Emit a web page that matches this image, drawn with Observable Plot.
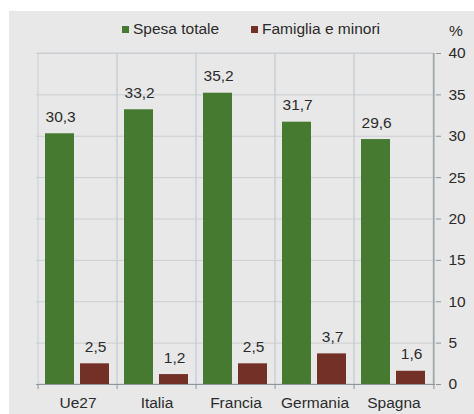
<!DOCTYPE html>
<html>
<head>
<meta charset="utf-8">
<script src="https://cdn.jsdelivr.net/npm/d3@7"></script>
<script src="https://cdn.jsdelivr.net/npm/@observablehq/plot@0.6"></script>
<style>
  html, body { margin: 0; padding: 0; background: #ffffff; }
  body { width: 474px; height: 414px; position: relative; overflow: hidden; font-family: "Liberation Sans", Arial, sans-serif; }
  #panel { position: absolute; left: 9px; top: 11px; width: 465px; height: 403px; background: #e8e8e8; }
  #legend { position: relative; height: 28px; font-size: 15.5px; color: #2b2b2b; }
  #legend .sw { position: absolute; width: 7px; height: 7px; top: 15px; }
  #legend .lb { position: absolute; top: 10px; line-height: 15px; white-space: nowrap; }
  svg { display: block; background: transparent !important; }
</style>
</head>
<body>
<div id="panel">
  <div id="legend"></div>
  <div id="chart"></div>
</div>
<script>
const categories = ["Ue27", "Italia", "Francia", "Germania", "Spagna"];
const spesaTotale = [30.3, 33.2, 35.2, 31.7, 29.6];
const famigliaMinori = [2.5, 1.2, 2.5, 3.7, 1.6];
const seriesNames = ["Spesa totale", "Famiglia e minori"];
const seriesColors = ["#457a30", "#733027"];
const yTicks = [0, 5, 10, 15, 20, 25, 30, 35, 40];
const unitLabel = "%";

const fmt = v => v.toFixed(1).replace(".", ",");

// legend
const legend = document.getElementById("legend");
const legendPos = [{sw: 113, lb: 124}, {sw: 242, lb: 253}];
seriesNames.forEach((name, i) => {
  const sw = document.createElement("div");
  sw.className = "sw";
  sw.style.left = legendPos[i].sw + "px";
  sw.style.background = seriesColors[i];
  legend.appendChild(sw);
  const lb = document.createElement("div");
  lb.className = "lb";
  lb.style.left = legendPos[i].lb + "px";
  lb.textContent = name;
  legend.appendChild(lb);
});
const pct = document.createElement("div");
pct.className = "lb";
pct.style.left = "440px";
pct.style.top = "12px";
pct.textContent = unitLabel;
legend.appendChild(pct);

const rowsA = categories.map((c, i) => ({cat: c, value: spesaTotale[i]}));
const rowsB = categories.map((c, i) => ({cat: c, value: famigliaMinori[i]}));

const W = 465, H = 375, mL = 27, mR = 39;
const bw = (W - mL - mR) / categories.length;
const gridColor = "#c9ced3";
const axisColor = "#8e959b";
const textColor = "#2b2b2b";

const chart = Plot.plot({
  width: W,
  height: H,
  marginLeft: mL,
  marginRight: mR,
  marginTop: 14,
  marginBottom: 30,
  style: {fontFamily: "Liberation Sans, Arial, sans-serif", fontSize: "15.5px", color: textColor, background: "transparent", overflow: "visible"},
  x: {type: "band", domain: categories, paddingInner: 0, paddingOuter: 0, axis: null, label: null},
  y: {domain: [0, 40], axis: null, label: null},
  marks: [
    Plot.ruleY(yTicks.slice(1), {stroke: gridColor, strokeWidth: 1}),
    Plot.barY(categories, {x: d => d, y1: 0, y2: 40, fill: "none", stroke: gridColor, strokeWidth: 1}),
    Plot.barY(rowsA, {x: "cat", y: "value", fill: seriesColors[0], insetLeft: 7, insetRight: 43}),
    Plot.barY(rowsB, {x: "cat", y: "value", fill: seriesColors[1], insetLeft: 42, insetRight: 8}),
    Plot.text(rowsA, {x: "cat", y: "value", text: d => fmt(d.value), dx: -17.4, dy: -17, fill: textColor, fontSize: 15.5}),
    Plot.text(rowsB, {x: "cat", y: "value", text: d => fmt(d.value), dx: 17.6, dy: -17, fill: textColor, fontSize: 15.5}),
    Plot.ruleY([0], {stroke: axisColor, strokeWidth: 1.2}),
    Plot.ruleX([categories[categories.length - 1]], {dx: bw / 2, y1: 0, y2: 40, stroke: axisColor, strokeWidth: 1.2}),
    Plot.axisX({ticks: categories, tickSize: 0, tickPadding: 12, fill: textColor, fontSize: 15.5, label: null}),
    Plot.axisX({ticks: categories, tickSize: 5, text: null, dx: -bw / 2, stroke: axisColor, label: null}),
    Plot.axisX({ticks: categories.slice(-1), tickSize: 5, text: null, dx: bw / 2, stroke: axisColor, label: null}),
    Plot.axisY({anchor: "right", ticks: yTicks, tickSize: 5, tickPadding: 8, stroke: axisColor, fill: textColor, fontSize: 15.5, label: null})
  ]
});
document.getElementById("chart").appendChild(chart);
</script>
</body>
</html>
